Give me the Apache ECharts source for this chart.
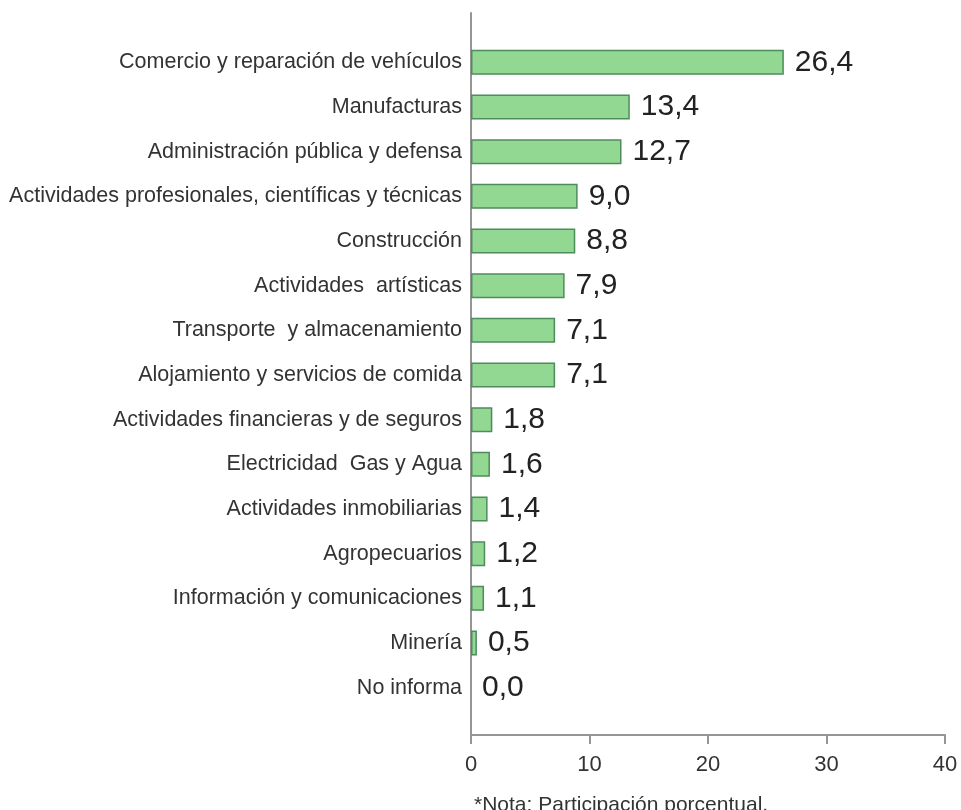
<!DOCTYPE html>
<html>
<head>
<meta charset="utf-8">
<script src="https://cdn.jsdelivr.net/npm/echarts@6/dist/echarts.min.js"></script>
<style>html,body{margin:0;padding:0;background:#fff;}#c{width:961px;height:810px;}</style>
</head>
<body>
<div id="c"></div>
<script>
var categories = [
  'Comercio y reparación de vehículos',
  'Manufacturas',
  'Administración pública y defensa',
  'Actividades profesionales, científicas y técnicas',
  'Construcción',
  'Actividades  artísticas',
  'Transporte  y almacenamiento',
  'Alojamiento y servicios de comida',
  'Actividades financieras y de seguros',
  'Electricidad  Gas y Agua',
  'Actividades inmobiliarias',
  'Agropecuarios',
  'Información y comunicaciones',
  'Minería',
  'No informa'
];
var values = [26.4, 13.4, 12.7, 9.0, 8.8, 7.9, 7.1, 7.1, 1.8, 1.6, 1.4, 1.2, 1.1, 0.5, 0.0];
var xTicks = [0, 10, 20, 30, 40];
var note = '*Nota: Participación porcentual.';

var FONT = "'Liberation Sans', Arial, sans-serif";
var chart = echarts.init(document.getElementById('c'));
chart.setOption({
  animation: false,
  backgroundColor: '#ffffff',
  textStyle: { fontFamily: FONT },
  grid: [
    { left: 471, width: 474, top: 40, height: 670 },
    { left: 471, width: 474, top: 13, height: 722 }
  ],
  xAxis: [
    { gridIndex: 0, type: 'value', min: xTicks[0], max: xTicks[xTicks.length - 1], interval: 10,
      show: false },
    { gridIndex: 1, type: 'value', min: xTicks[0], max: xTicks[xTicks.length - 1], interval: 10,
      axisLine: { show: true, lineStyle: { color: '#959595', width: 2 } },
      axisTick: { show: true, length: 9, lineStyle: { color: '#959595', width: 2 } },
      splitLine: { show: false },
      axisLabel: { color: '#333', fontSize: 22, margin: 19, fontFamily: FONT } }
  ],
  yAxis: [
    { gridIndex: 0, type: 'category', data: categories, inverse: true,
      axisLine: { show: false }, axisTick: { show: false },
      axisLabel: { color: '#333', fontSize: 21.5, margin: 9, fontFamily: FONT } },
    { gridIndex: 1, type: 'value', min: 0, max: 1,
      axisLine: { show: true, lineStyle: { color: '#959595', width: 2 } },
      axisTick: { show: false }, axisLabel: { show: false }, splitLine: { show: false } }
  ],
  series: [{
    type: 'bar',
    xAxisIndex: 0, yAxisIndex: 0,
    data: values.map(function (v) {
      return v > 0 ? v : { value: v, itemStyle: { borderWidth: 0 } };
    }),
    barWidth: 25,
    itemStyle: { color: '#92d892', borderColor: '#4f8c5c', borderWidth: 1.5 },
    label: {
      show: true, position: 'right', distance: 11,
      color: '#222', fontSize: 30, fontFamily: FONT,
      formatter: function (p) { return p.value.toFixed(1).replace('.', ','); }
    }
  }],
  graphic: [{
    type: 'text', left: 474, top: 795,
    style: { text: note, fill: '#333', font: '21px ' + FONT }
  }]
});
</script>
</body>
</html>
